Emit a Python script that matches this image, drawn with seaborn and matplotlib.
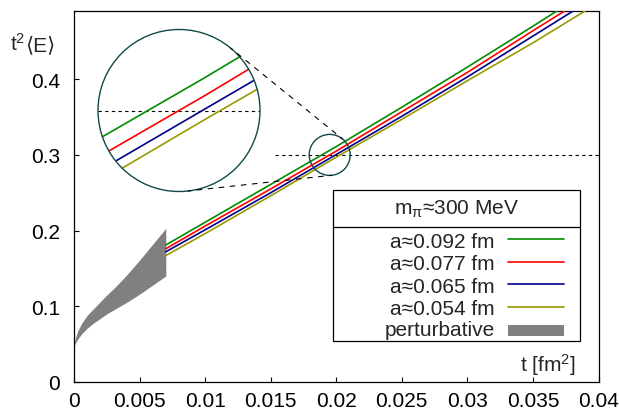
import numpy as np
import pandas as pd
import matplotlib
matplotlib.use("Agg")
import matplotlib.pyplot as plt
import seaborn as sns
from matplotlib.patches import Circle, Ellipse, Rectangle
from matplotlib.lines import Line2D

# ---------------- data ----------------
t_lat = [0.007, 0.010, 0.015, 0.020, 0.025, 0.030, 0.035, 0.040]
E_a092 = [0.181, 0.211, 0.261, 0.311, 0.363, 0.416, 0.470, 0.525]
E_a077 = [0.176, 0.206, 0.255, 0.305, 0.357, 0.409, 0.464, 0.518]
E_a065 = [0.172, 0.201, 0.250, 0.3005, 0.351, 0.403, 0.457, 0.511]
E_a054 = [0.167, 0.196, 0.246, 0.297, 0.347, 0.398, 0.448, 0.501]
series_labels = ["a≈0.092 fm", "a≈0.077 fm", "a≈0.065 fm", "a≈0.054 fm"]
series_colors = ["#008c00", "#ff0000", "#00008b", "#999900"]

t_pert = [0.0, 0.0001, 0.0003, 0.0006, 0.001, 0.0015, 0.002, 0.0025, 0.003, 0.004, 0.005, 0.006, 0.007]
pert_lo = [0.048, 0.051, 0.057, 0.064, 0.071, 0.078, 0.084, 0.090, 0.095, 0.105, 0.116, 0.128, 0.140]
pert_hi = [0.048, 0.058, 0.068, 0.078, 0.088, 0.097, 0.106, 0.115, 0.123, 0.141, 0.161, 0.182, 0.203]
pert_label = "perturbative"
pert_color = "#808080"

legend_title = r"m$_{\mathrm{\pi}}$≈300 MeV"
xlabel = r"t [fm$^2$]"
ylabel_main = r"t$^2$"
ylabel_tail = "⟨E⟩"
xticks = [0, 0.005, 0.01, 0.015, 0.02, 0.025, 0.03, 0.035, 0.04]
xticklabels = ["0", "0.005", "0.01", "0.015", "0.02", "0.025", "0.03", "0.035", "0.04"]
yticks = [0, 0.1, 0.2, 0.3, 0.4]
yticklabels = ["0", "0.1", "0.2", "0.3", "0.4"]

zoom_center = (0.0195, 0.30)   # magnified region
ref_level = 0.30
ref_start = 0.0153

# ---------------- style ----------------
sns.set_theme(style="ticks", rc={
    "xtick.direction": "in", "ytick.direction": "in",
    "xtick.major.size": 3.6, "ytick.major.size": 3.6,
    "xtick.major.width": 0.8, "ytick.major.width": 0.8,
    "xtick.major.pad": 6.5, "ytick.major.pad": 10,
    "axes.linewidth": 0.9, "axes.edgecolor": "black",
    "xtick.color": "black", "ytick.color": "black",
})
plt.rcParams["font.family"] = ["Liberation Sans", "DejaVu Sans"]
plt.rcParams["mathtext.fontset"] = "custom"
plt.rcParams["mathtext.rm"] = "Liberation Sans"
plt.rcParams["mathtext.it"] = "Liberation Sans:italic"
plt.rcParams["mathtext.default"] = "regular"
FS = 15

W, H = 619, 410
fig = plt.figure(figsize=(W / 100, H / 100), dpi=100)
fig.patch.set_facecolor("white")

ax_l, ax_r, ax_t, ax_b = 74, 598.5, 12.3, 383
ax = fig.add_axes([ax_l / W, (H - ax_b) / H, (ax_r - ax_l) / W, (ax_b - ax_t) / H])

df = pd.DataFrame({
    "t": np.tile(t_lat, 4),
    "E": np.concatenate([E_a092, E_a077, E_a065, E_a054]),
    "a": np.repeat(series_labels, len(t_lat)),
})

ax.fill_between(t_pert, pert_lo, pert_hi, color=pert_color, lw=0, zorder=2)
ax.plot([ref_start, xticks[-1]], [ref_level, ref_level], color="black", lw=0.8,
        ls=(0, (3, 3)), zorder=1)
sns.lineplot(data=df, x="t", y="E", hue="a", hue_order=series_labels,
             palette=series_colors, estimator=None, sort=False, lw=1.2,
             legend=False, ax=ax, zorder=3)

ax.set_xlim(0, 0.04)
ax.set_ylim(0, 0.4897)
ax.set_xticks(xticks)
ax.set_xticklabels(xticklabels, fontsize=FS)
ax.set_yticks(yticks)
ax.set_yticklabels(yticklabels, fontsize=FS)
ax.tick_params(top=False, right=False)
ax.set_xlabel(xlabel, fontsize=FS, ha="right", va="baseline")
ax.xaxis.set_label_coords((576 - ax_l) / (ax_r - ax_l), (ax_b - 372) / (ax_b - ax_t))
ylab = ax.set_ylabel(ylabel_main, fontsize=FS, rotation=0, ha="left", va="baseline")
ylab_y = (ax_b - 51) / (ax_b - ax_t)
ax.yaxis.set_label_coords((10 - ax_l) / (ax_r - ax_l), ylab_y)

# small circle marking the magnified region
px_per_x = (ax_r - ax_l) / 0.04
px_per_y = (ax_b - ax_t) / 0.4897
r_small = 20.5
rx, ry = r_small / px_per_x, r_small / px_per_y
teal = "#0f4a4a"
ax.add_patch(Ellipse(zoom_center, 2 * rx, 2 * ry, fill=False, edgecolor=teal,
                     lw=1.0, zorder=4))

# inset (magnified circle)
R_big = 81
cx, cy = 179, 111.5
axin = fig.add_axes([(cx - R_big) / W, (H - cy - R_big) / H, 2 * R_big / W, 2 * R_big / H])
axin.set_xlim(zoom_center[0] - rx, zoom_center[0] + rx)
axin.set_ylim(zoom_center[1] - ry, zoom_center[1] + ry)
axin.set_axis_off()
bg = Circle((0.5, 0.5), 0.5, transform=axin.transAxes, facecolor="white",
            edgecolor="none", zorder=0)
bg.set_clip_on(False)
axin.add_patch(bg)
clipc = Circle((0.5, 0.5), 0.5, transform=axin.transAxes)
sns.lineplot(data=df, x="t", y="E", hue="a", hue_order=series_labels,
             palette=series_colors, estimator=None, sort=False, lw=1.2,
             legend=False, ax=axin, zorder=3)
axin.axhline(ref_level, color="black", lw=0.8, ls=(0, (3, 3)), zorder=2)
for ln in axin.lines:
    ln.set_clip_path(clipc)
edge = Circle((0.5, 0.5), 0.5, transform=axin.transAxes, fill=False,
              edgecolor=teal, lw=1.0, zorder=5)
edge.set_clip_on(False)
axin.add_patch(edge)
axin.set_xlabel("")
axin.set_ylabel("")

# connector tangent lines (external tangents between the two circles)
c1 = axin.transAxes.transform((0.5, 0.5))
c2 = ax.transData.transform(zoom_center)
d = c2 - c1
D = np.hypot(*d)
u = d / D
up = np.array([-u[1], u[0]])
ca = (R_big - r_small) / D
sa = np.sqrt(1 - ca ** 2)
inv = fig.transFigure.inverted()
for s in (1, -1):
    n = ca * u + s * sa * up
    p1 = inv.transform(c1 + R_big * n)
    p2 = inv.transform(c2 + r_small * n)
    fig.add_artist(Line2D([p1[0], p2[0]], [p1[1], p2[1]], transform=fig.transFigure,
                          color="black", lw=0.8, ls=(2, (5, 5))))

# key box
def fx(px):
    return (px - ax_l) / (ax_r - ax_l)

def fy(py):
    return (ax_b - py) / (ax_b - ax_t)

bx0, bx1, by0, by1 = 332.7, 580, 191, 341.7
ax.add_patch(Rectangle((fx(bx0), fy(by1)), fx(bx1) - fx(bx0), fy(by0) - fy(by1),
                       transform=ax.transAxes, facecolor="white", edgecolor="black",
                       lw=0.9, zorder=10))
ax.add_line(Line2D([fx(bx0), fx(bx1)], [fy(228.3), fy(228.3)], transform=ax.transAxes,
                   color="black", lw=0.9, zorder=11))
ax.text(fx((bx0 + bx1) / 2), fy(214.5), legend_title, transform=ax.transAxes,
        ha="center", va="baseline", fontsize=FS, zorder=12)
row_y = [240.3, 262.8, 285.3, 307.8, 330.3]
for lab, col, yy in zip(series_labels, series_colors, row_y[:4]):
    ax.text(fx(495), fy(yy + 7.5), lab, transform=ax.transAxes, ha="right",
            va="baseline", fontsize=FS, zorder=12)
    ax.add_line(Line2D([fx(508.3), fx(564)], [fy(yy), fy(yy)], transform=ax.transAxes,
                       color=col, lw=1.2, zorder=12))
ax.text(fx(495), fy(row_y[4] + 5.5), pert_label, transform=ax.transAxes, ha="right",
        va="baseline", fontsize=FS, zorder=12)
ax.add_patch(Rectangle((fx(508.3), fy(336.7)), fx(564) - fx(508.3), fy(326) - fy(336.7),
                       transform=ax.transAxes, facecolor=pert_color, lw=0, zorder=12))

# second part of the y label ("⟨E⟩") placed right after "t²"
renderer = fig.canvas.get_renderer()
bb = ylab.get_window_extent(renderer)
x_end = ax.transAxes.inverted().transform((bb.x1, 0))[0]
ax.text(x_end, ylab_y, ylabel_tail, transform=ax.transAxes, ha="left", va="baseline",
        fontsize=FS, clip_on=False)

fig.savefig("out.png", dpi=100)
